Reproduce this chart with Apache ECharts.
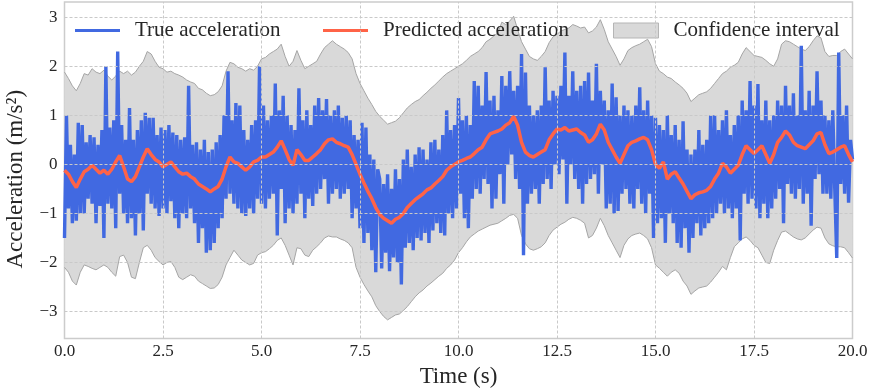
<!DOCTYPE html>
<html>
<head>
<meta charset="utf-8">
<script src="https://cdn.jsdelivr.net/npm/echarts@6/dist/echarts.min.js"></script>
<style>html,body{margin:0;padding:0;background:#fff}#c{width:871px;height:390px}</style>
</head>
<body>
<div id="c"></div>
<script>
// True acceleration, sampled every 0.05 s (0.0 .. 20.0 s)
const trueAcc = [
-1.5,1.0,-0.9,0.4,-1.2,0.2,-1.15,0.85,-1.0,0.8,-1.0,0.45,-0.7,0.6,-0.8,0.55,-1.2,0.4,-0.85,0.7,
-1.5,2.0,-0.8,0.75,-0.9,0.9,-1.3,2.3,-0.6,0.8,-1.0,0.5,-1.2,1.15,-1.1,0.5,-1.45,0.7,-1.0,0.9,
-1.35,1.05,-0.6,0.95,-0.8,0.95,-0.9,0.6,-1.05,0.75,-0.9,0.7,-1.0,0.8,-0.75,0.65,-1.1,0.6,-1.3,0.5,
-1.0,0.55,-1.1,1.6,-0.9,0.4,-1.2,0.45,-1.6,0.3,-1.3,0.5,-1.8,0.25,-1.75,0.3,-1.6,0.45,-1.3,0.6,
-1.1,1.0,-0.7,1.9,-0.6,0.9,-0.8,1.25,-0.9,1.2,-1.0,0.7,-1.05,0.5,-0.9,0.8,-1.0,0.9,-0.7,2.0,
-0.8,1.2,-0.9,0.9,-0.7,1.0,-0.6,1.65,-1.45,1.1,-0.5,1.4,-1.2,1.0,-0.9,0.8,-1.0,0.7,-0.8,1.55,
-0.6,0.9,-1.1,1.1,-0.7,0.8,-0.85,1.2,-0.6,1.35,-0.5,1.1,-0.3,1.33,-0.8,1.0,-0.6,1.1,-0.5,1.2,
-0.7,0.95,-0.6,1.0,-0.5,0.9,-1.1,0.6,-0.9,0.5,-1.3,0.85,-1.6,0.75,-1.4,0.2,-1.75,0.1,-2.2,-0.1,
-0.3,-2.12,-0.4,-1.8,-0.2,-2.18,-0.5,-1.9,-0.1,-2.0,-0.3,-2.45,0.1,-1.7,0.3,-1.6,-0.05,-1.75,0.2,-1.5,
0.35,-1.55,0.3,-1.4,0.1,-1.6,0.45,-1.35,0.5,-1.2,0.3,-1.4,0.6,-1.45,1.1,-1.0,0.7,-1.1,0.8,-0.9,
1.35,-0.6,0.9,-1.1,1.0,-1.3,0.8,-0.7,1.7,-0.5,1.6,-0.6,1.2,-0.3,1.88,-0.4,1.3,-0.9,1.4,-0.7,
1.1,-0.2,1.8,-0.8,1.6,0.0,1.9,0.2,1.5,-0.3,1.6,-0.5,2.25,-1.85,1.87,-0.8,1.2,-0.6,1.0,-0.5,
1.1,-0.8,1.2,-0.4,1.98,-0.3,1.3,-0.5,1.5,0.0,1.4,-0.2,1.6,0.1,2.28,-0.8,1.4,0.0,1.9,-0.3,
1.5,-0.5,1.6,-0.8,1.7,-0.4,1.87,-0.3,1.3,-0.2,2.05,-0.6,1.5,0.0,1.3,-0.9,1.1,-0.8,1.65,-1.0,
1.37,-0.95,1.0,-0.6,1.2,-0.5,1.1,-0.8,1.0,-0.9,1.2,-0.5,1.57,-0.8,1.1,-1.0,1.3,-0.6,1.0,-1.5,
0.95,-1.2,0.8,-1.1,0.7,-1.6,1.0,-1.0,0.6,-1.2,0.8,-1.6,0.5,-1.7,0.88,-1.3,0.3,-1.8,0.2,-1.5,
0.3,-1.2,0.7,-1.45,0.4,-1.3,0.5,-1.2,1.0,-1.1,1.0,-1.0,0.7,-0.8,0.9,-1.0,1.1,-0.9,0.6,-1.1,
0.8,-0.9,1.0,-1.55,1.3,-0.6,1.1,-0.8,1.7,-0.7,1.2,-0.9,1.64,-1.1,0.9,-0.8,1.3,-1.1,0.9,-0.9,
1.0,-0.7,1.3,-0.5,1.2,-1.2,1.6,-0.4,1.2,-0.6,1.45,-0.7,1.0,-0.5,2.42,-0.8,1.1,-0.6,1.5,-1.25,
1.2,-0.3,1.9,-0.2,1.3,-0.6,1.0,-0.6,0.9,-0.7,1.1,-0.5,-1.91,2.28,-0.4,1.0,-0.6,1.2,-0.78,0.5,
0.1
];
// Predicted acceleration, every 0.1 s
const predAcc = [
-0.12,-0.2,-0.35,-0.47,-0.3,-0.15,-0.1,-0.02,-0.1,-0.18,
-0.12,-0.2,-0.1,0.05,0.18,-0.05,-0.3,-0.35,-0.25,-0.05,
0.15,0.32,0.2,0.1,0.05,-0.05,0.0,0.05,-0.05,-0.15,
-0.2,-0.18,-0.25,-0.3,-0.4,-0.45,-0.5,-0.56,-0.5,-0.45,
-0.3,-0.05,0.15,0.05,0.02,-0.05,-0.12,-0.05,0.05,0.08,
0.15,0.15,0.2,0.25,0.35,0.48,0.3,0.1,-0.02,0.3,
0.2,0.08,0.08,0.15,0.22,0.3,0.42,0.5,0.52,0.45,
0.42,0.38,0.35,0.2,0.0,-0.2,-0.38,-0.55,-0.7,-0.88,
-1.02,-1.1,-1.15,-1.2,-1.12,-1.08,-1.0,-0.88,-0.8,-0.72,
-0.66,-0.6,-0.52,-0.48,-0.4,-0.33,-0.25,-0.12,-0.05,0.0,
0.05,0.08,0.12,0.15,0.22,0.3,0.35,0.5,0.62,0.65,
0.68,0.72,0.8,0.85,0.98,0.8,0.45,0.25,0.18,0.15,
0.2,0.25,0.3,0.5,0.62,0.72,0.7,0.75,0.68,0.7,
0.72,0.65,0.6,0.45,0.5,0.62,0.82,0.7,0.45,0.3,
0.15,0.02,0.2,0.38,0.45,0.48,0.52,0.55,0.5,0.3,
0.0,-0.08,0.05,-0.3,-0.2,-0.15,-0.28,-0.4,-0.55,-0.7,
-0.62,-0.58,-0.56,-0.53,-0.45,-0.3,-0.18,0.02,-0.05,-0.18,
-0.1,-0.02,0.2,0.38,0.3,0.22,0.3,0.38,0.2,0.02,
0.2,0.45,0.55,0.68,0.6,0.45,0.38,0.35,0.32,0.4,
0.48,0.62,0.65,0.4,0.22,0.25,0.3,0.35,0.38,0.2,
0.05
];
// Confidence interval bounds, every 0.1 s
const upperCI = [
1.88,1.75,1.6,1.5,1.65,1.85,1.82,1.95,1.88,1.85,
1.92,1.8,1.72,1.8,1.9,1.85,1.9,1.82,1.88,2.0,
2.1,2.3,2.25,2.1,1.98,1.95,1.88,1.9,1.85,1.82,
1.78,1.72,1.68,1.65,1.55,1.52,1.45,1.4,1.42,1.48,
1.6,1.9,2.08,2.05,1.98,1.95,1.9,1.95,1.92,2.0,
2.15,2.18,2.25,2.3,2.35,2.45,2.2,2.0,2.1,2.32,
2.12,1.95,2.0,2.05,2.1,2.25,2.38,2.45,2.52,2.45,
2.4,2.35,2.28,2.15,1.85,1.65,1.5,1.35,1.22,1.08,
0.98,0.9,0.82,0.85,0.88,0.95,1.05,1.15,1.22,1.28,
1.32,1.4,1.47,1.55,1.62,1.7,1.78,1.85,1.9,1.95,
2.0,2.05,2.12,2.2,2.25,2.3,2.38,2.5,2.55,2.62,
2.68,2.9,2.85,2.92,3.02,2.75,2.5,2.35,2.2,2.15,
2.12,2.2,2.3,2.48,2.6,2.65,2.72,2.75,2.78,2.85,
2.82,2.78,2.8,2.68,2.72,2.8,2.95,2.75,2.5,2.35,
2.2,2.02,2.15,2.32,2.38,2.42,2.45,2.5,2.55,2.4,
2.05,1.9,1.85,1.78,1.75,1.68,1.62,1.55,1.45,1.28,
1.35,1.42,1.45,1.48,1.55,1.65,1.75,1.85,1.9,1.98,
2.02,2.08,2.25,2.38,2.3,2.22,2.2,2.18,2.12,2.05,
2.0,2.15,2.45,2.52,2.5,2.45,2.4,2.35,2.32,2.4,
2.52,2.62,2.58,2.3,2.2,2.22,2.22,2.3,2.35,2.25,
2.15
];
const lowerCI = [
-2.1,-2.2,-2.38,-2.46,-2.2,-2.05,-2.08,-2.12,-2.15,-2.1,
-2.05,-2.1,-2.2,-2.28,-1.88,-1.85,-2.0,-2.3,-2.33,-2.0,
-1.7,-1.65,-1.75,-1.9,-1.98,-2.05,-2.0,-1.98,-2.1,-2.3,
-2.35,-2.3,-2.25,-2.28,-2.38,-2.43,-2.48,-2.53,-2.52,-2.45,
-2.3,-2.05,-1.9,-1.75,-1.85,-1.95,-2.0,-2.05,-2.02,-1.85,
-1.8,-1.78,-1.72,-1.65,-1.55,-1.5,-1.65,-1.85,-2.05,-1.7,
-1.72,-1.85,-1.88,-1.75,-1.68,-1.6,-1.5,-1.46,-1.48,-1.48,
-1.52,-1.55,-1.6,-1.7,-2.1,-2.3,-2.45,-2.58,-2.7,-2.88,
-3.0,-3.1,-3.17,-3.12,-3.07,-3.05,-2.98,-2.9,-2.8,-2.7,
-2.62,-2.56,-2.48,-2.42,-2.35,-2.28,-2.22,-2.12,-2.05,-1.95,
-1.8,-1.7,-1.58,-1.48,-1.42,-1.36,-1.32,-1.28,-1.24,-1.22,
-1.2,-1.15,-1.1,-1.04,-1.02,-1.1,-1.45,-1.62,-1.72,-1.75,
-1.72,-1.68,-1.6,-1.45,-1.34,-1.28,-1.22,-1.18,-1.12,-1.08,
-1.1,-1.14,-1.2,-1.5,-1.45,-1.3,-1.1,-1.25,-1.45,-1.6,
-1.75,-1.9,-1.65,-1.52,-1.45,-1.42,-1.4,-1.45,-1.52,-1.7,
-2.05,-2.12,-2.2,-2.28,-2.2,-2.15,-2.22,-2.38,-2.48,-2.65,
-2.58,-2.52,-2.5,-2.48,-2.4,-2.3,-2.2,-2.08,-2.15,-1.9,
-1.68,-1.6,-1.52,-1.48,-1.55,-1.65,-1.7,-1.85,-2.0,-2.02,
-1.75,-1.55,-1.38,-1.36,-1.42,-1.48,-1.52,-1.54,-1.5,-1.42,
-1.34,-1.28,-1.3,-1.5,-1.62,-1.66,-1.68,-1.68,-1.7,-1.8,
-1.91
];
const xTicks = [0, 2.5, 5, 7.5, 10, 12.5, 15, 17.5, 20];
const yTicks = [-3, -2, -1, 0, 1, 2, 3];

const trueData = trueAcc.map((v, i) => [i * 0.05, v]);
const predData = predAcc.map((v, i) => [i * 0.1, v]);
const bandRows = upperCI.map((u, i) => [i * 0.1, lowerCI[i], u]);

const FONT = '"Liberation Serif", "Times New Roman", serif';
const TXT = '#262626';
const fmtY = v => (v < 0 ? '\u2212' + Math.abs(v) : String(v));

const gridLines = [];
yTicks.forEach(v => gridLines.push({ yAxis: v }));
xTicks.slice(1, -1).forEach(v => gridLines.push({ xAxis: v }));

function renderBand(params, api) {
  if (params.dataIndex !== 0) return null;
  const up = bandRows.map(r => api.coord([r[0], r[2]]));
  const lo = bandRows.map(r => api.coord([r[0], r[1]]));
  const poly = up.concat(lo.slice().reverse());
  return {
    type: 'group',
    children: [
      { type: 'polygon', shape: { points: poly }, style: { fill: '#d9d9d9', stroke: null } },
      { type: 'polyline', shape: { points: up }, style: { fill: null, stroke: '#a5a5a5', lineWidth: 1 } },
      { type: 'polyline', shape: { points: lo }, style: { fill: null, stroke: '#a5a5a5', lineWidth: 1 } }
    ]
  };
}

const legendText = { fontFamily: FONT, fontSize: 21, color: TXT, padding: [0, 0, 0, 10] };

const chart = echarts.init(document.getElementById('c'), null, { renderer: 'canvas' });
chart.setOption({
  animation: false,
  backgroundColor: '#ffffff',
  textStyle: { fontFamily: FONT, color: TXT },
  grid: { left: 64.5, right: 18.5, top: 2, bottom: 51.5, containLabel: false, outerBoundsMode: 'none',
          show: true, borderColor: '#cccccc', borderWidth: 1.5, backgroundColor: 'transparent' },
  legend: [
    { left: 70, top: 15, itemWidth: 45, itemHeight: 3, icon: 'rect', textStyle: legendText,
      data: [{ name: 'True acceleration', itemStyle: { color: '#4169e1' } }] },
    { left: 318, top: 15, itemWidth: 45, itemHeight: 3, icon: 'rect', textStyle: legendText,
      data: [{ name: 'Predicted acceleration', itemStyle: { color: '#ff6347' } }] },
    { left: 608, top: 15, itemWidth: 45, itemHeight: 15, icon: 'rect', textStyle: legendText,
      data: [{ name: 'Confidence interval', itemStyle: { color: '#d9d9d9', borderColor: '#b5b5b5', borderWidth: 1 } }] }
  ],
  xAxis: {
    type: 'value', min: 0, max: 20, interval: 2.5,
    name: 'Time (s)', nameLocation: 'middle', nameGap: 25,
    nameTextStyle: { fontFamily: FONT, fontSize: 23, color: TXT },
    axisLine: { show: false }, axisTick: { show: false }, splitLine: { show: false },
    axisLabel: { fontFamily: FONT, fontSize: 17, color: TXT, margin: 5, formatter: v => v.toFixed(1) }
  },
  yAxis: {
    type: 'value', min: -3.55, max: 3.31,
    name: 'Acceleration (m/s\u00b2)', nameLocation: 'middle', nameGap: 37, nameRotate: 90,
    nameTextStyle: { fontFamily: FONT, fontSize: 23, color: TXT, padding: [0, 18, 0, 0] },
    axisLine: { show: false }, axisTick: { show: false }, splitLine: { show: false },
    axisLabel: { fontFamily: FONT, fontSize: 17, color: TXT, margin: 7, customValues: yTicks, formatter: fmtY }
  },
  series: [
    { name: 'Confidence interval', type: 'custom', data: bandRows, renderItem: renderBand,
      encode: { x: 0, y: [1, 2] }, silent: true, clip: true, z: 1, itemStyle: { color: '#d9d9d9' } },
    { name: 'grid', type: 'line', data: [], z: 2, silent: true,
      markLine: { silent: true, symbol: ['none', 'none'], label: { show: false }, animation: false,
        lineStyle: { color: '#c9c9c9', width: 1, type: [3, 2] }, data: gridLines } },
    { name: 'True acceleration', type: 'line', data: trueData, symbol: 'none', z: 3,
      lineStyle: { color: '#4169e1', width: 3.4 }, itemStyle: { color: '#4169e1' } },
    { name: 'Predicted acceleration', type: 'line', data: predData, symbol: 'none', z: 4,
      lineStyle: { color: '#ff6347', width: 3.5 }, itemStyle: { color: '#ff6347' } }
  ]
});
</script>
</body>
</html>
